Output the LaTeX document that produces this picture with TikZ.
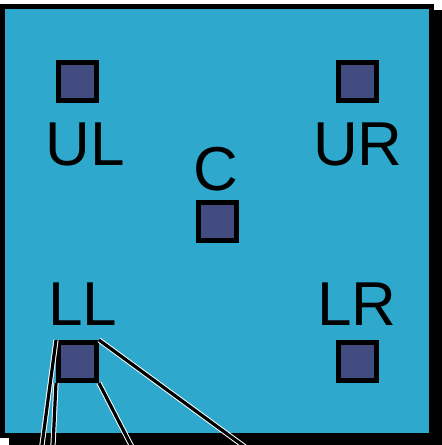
\documentclass[tikz,border=0pt]{standalone}
\usepackage{fontspec}
\setmainfont{Liberation Sans}
\definecolor{panelfill}{RGB}{46,168,204}
\definecolor{padfill}{RGB}{66,76,128}
\begin{document}
\begin{tikzpicture}[x=1pt,y=-1pt,
  pad/.style={draw=black, fill=padfill, line width=5pt, minimum size=38pt, inner sep=0pt},
  tag/.style={anchor=base, font=\fontsize{62}{62}\selectfont, inner sep=0pt},
  wire/.style={draw=white, line width=1pt, double=black, double distance=3.2pt}]
\useasboundingbox (0,0) rectangle (442,445);
\clip (0,0) rectangle (442,445);
% drop shadow and panel
\fill[black] (9,10) rectangle (470,470);
\draw[line width=5pt, fill=panelfill] (2.5,6.5) rectangle (431.5,435.5);
% pads
\node[pad] (ulp) at (77.5,81.5) {};
\node[pad] (urp) at (357.5,81.5) {};
\node[pad] (cp)  at (217.5,221.5) {};
\node[pad] (llp) at (77.5,361.5) {};
\node[pad] (lrp) at (357.5,361.5) {};
% labels
\node[tag] (ul) at (85,165) {UL};
\node[tag] (ur) at (358,165) {UR};
\node[tag] (c)  at (216,190) {C};
\node[tag] (ll) at (83,325) {LL};
\node[tag] (lr) at (357,325) {LR};
% fan-out from the lower-left pad
\coordinate (w1) at (40,460);
\coordinate (w2) at (52.3,460);
\coordinate (w3) at (138.7,460);
\coordinate (w4) at (262.8,460);
\draw[wire] (llp.north west) -- (w1);
\draw[wire] (llp.south west) -- (w2);
\draw[wire] (llp.south east) -- (w3);
\draw[wire] (llp.north east) -- (w4);
\end{tikzpicture}
\end{document}
